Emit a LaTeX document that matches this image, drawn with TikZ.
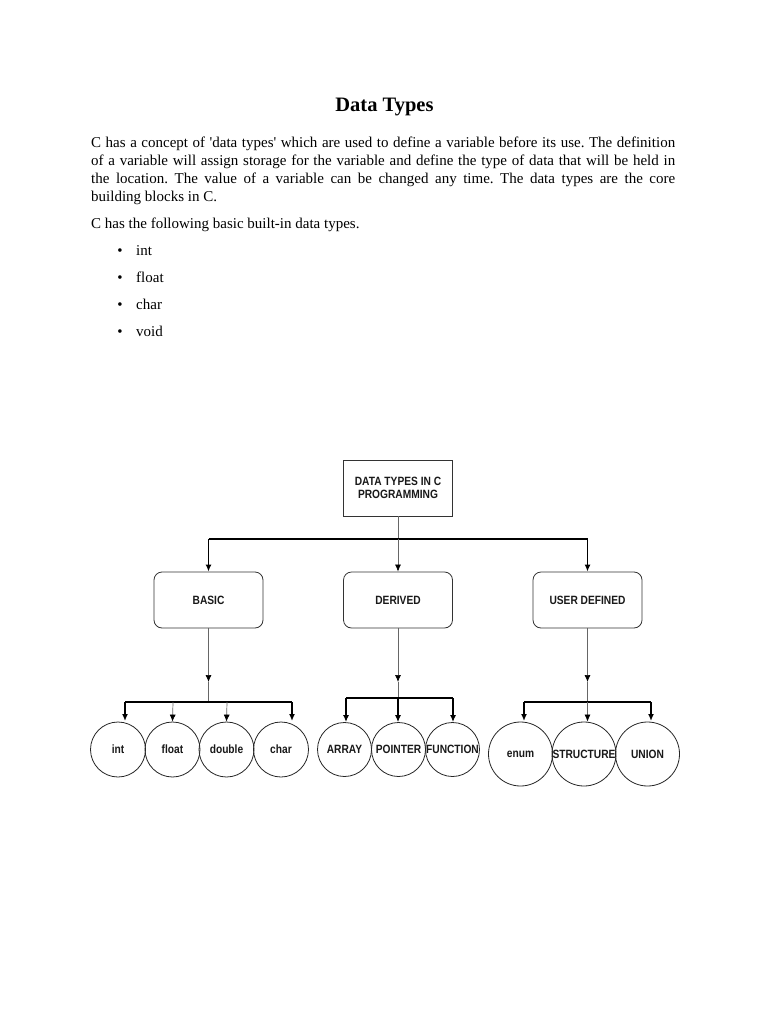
\documentclass[tikz,border=0pt]{standalone}
\usepackage{fontspec}
\setmainfont{Liberation Serif}
\newfontfamily\diagfont[FakeStretch=0.85]{Liberation Sans}
\usetikzlibrary{arrows.meta}
\frenchspacing
\tikzset{
  body/.style={anchor=base west, inner sep=0pt, font=\fontsize{15}{18}\selectfont},
  topbox/.style={draw=black!80, line width=0.8pt, minimum width=109pt, minimum height=56pt, inner sep=0pt,
    font=\diagfont\bfseries\fontsize{12}{13.5}\selectfont, align=center, text=black!90},
  rbox/.style={topbox, rounded corners=8pt},
  circ/.style={circle, draw=black!85, line width=0.8pt, inner sep=0pt, minimum size=#1,
    font=\diagfont\bfseries\fontsize{12}{13}\selectfont, text=black!90},
  circ/.default=55pt,
  thinline/.style={draw=black!60, line width=0.7pt},
  busline/.style={draw=black, line width=2pt},
  thinarrow/.style={thinline, -{Latex[length=7pt,width=6pt,black]}},
  thickarrow/.style={draw=black, line width=1.6pt, -{Latex[length=7pt,width=6pt]}},
}
\begin{document}
\begin{tikzpicture}[x=1pt,y=-1pt]
\useasboundingbox (0,0) rectangle (768,1024);
\fill[white] (0,0) rectangle (768,1024);

% title and text
\node[anchor=base, inner sep=0pt, font=\bfseries\fontsize{20.5}{24}\selectfont] (title) at (384.5,112) {Data Types};
\node[body] (l1) at (91,148) {\makebox[584pt][s]{C has a concept of \textquotesingle data types\textquotesingle{} which are used to define a variable before its use. The definition}};
\node[body] (l2) at (91,166) {\makebox[584pt][s]{of a variable will assign storage for the variable and define the type of data that will be held in}};
\node[body] (l3) at (91,184) {\makebox[584pt][s]{the location. The value of a variable can be changed any time. The data types are the core}};
\node[body] (l4) at (91,202) {building blocks in C.};
\node[body] (l5) at (91,229) {C has the following basic built-in data types.};
\foreach \y/\t/\n in {255/int/b1, 282/float/b2, 309/char/b3, 336/void/b4}{
  \node[body, anchor=base] (\n d) at (120,\y) {\textbullet};
  \node[body] (\n) at (136,\y) {\t};
}

% boxes
\node[topbox] (top) at (398,488) {DATA TYPES IN C\\PROGRAMMING};
\node[rbox] (basic) at (208.5,600) {BASIC};
\node[rbox] (derived) at (398,600) {DERIVED};
\node[rbox] (user) at (587.5,600) {USER DEFINED};

% circles
\node[circ] (int) at (118,749.5) {int};
\node[circ] (float) at (172.5,749.5) {float};
\node[circ] (double) at (226.5,749.5) {double};
\node[circ] (char) at (281,749.5) {char};
\node[circ=54pt] (array) at (344.5,749.5) {ARRAY};
\node[circ=54pt] (pointer) at (398.5,749.5) {POINTER};
\node[circ=54pt] (function) at (452.5,749.5) {FUNCTION};
\node[circ=64pt] (enum) at (520.5,754) {enum};
\node[circ=64pt] (structure) at (584,754) {STRUCTURE};
\node[circ=64pt] (union) at (647.5,754) {UNION};

% level 1 connectors
\coordinate (j0) at (398,539);
\coordinate (j0L) at (208.5,539);
\coordinate (j0R) at (587.5,539);
\draw[thinline] (top.south) -- (j0);
\draw[busline] (j0L) -- (j0R);
\draw[thinarrow] (j0) -- (derived.north);
\draw[thickarrow] (j0L) -- (basic.north);
\draw[thickarrow] (j0R) -- (user.north);

% basic group
\coordinate (a1) at (208.5,682);
\coordinate (j1) at (208.5,702);
\coordinate (j1L) at (125,702);
\coordinate (j1R) at (292,702);
\coordinate (j1a) at (173,702);
\coordinate (j1b) at (227,702);
\draw[thinarrow] (basic.south) -- (a1);
\draw[thinline] (a1) -- (j1);
\draw[busline] (j1L) -- (j1R);
\draw[thickarrow] (j1L) -- (j1L |- 0,721);
\draw[thinarrow] (j1a) -- (float.north);
\draw[thinarrow] (j1b) -- (double.north);
\draw[thickarrow] (j1R) -- (j1R |- 0,721);

% derived group
\coordinate (a2) at (398,682);
\coordinate (j2) at (398,698);
\coordinate (j2L) at (346,698);
\coordinate (j2R) at (453,698);
\draw[thinarrow] (derived.south) -- (a2);
\draw[thinline] (a2) -- (j2);
\draw[busline] (j2L) -- (j2R);
\draw[thickarrow] (j2L) -- (j2L |- array.north);
\draw[thickarrow, line width=1.1pt] (j2) -- (pointer.north -| j2);
\draw[thickarrow] (j2R) -- (j2R |- function.north);

% user defined group
\coordinate (a3) at (587.5,682);
\coordinate (j3) at (587.5,702);
\coordinate (j3L) at (524,702);
\coordinate (j3R) at (651,702);
\draw[thinarrow] (user.south) -- (a3);
\draw[thinline] (a3) -- (j3);
\draw[busline] (j3L) -- (j3R);
\draw[thickarrow] (j3L) -- (j3L |- 0,721);
\draw[thinarrow] (j3) -- (j3 |- structure.north);
\draw[thickarrow] (j3R) -- (j3R |- 0,721);
\end{tikzpicture}
\end{document}
